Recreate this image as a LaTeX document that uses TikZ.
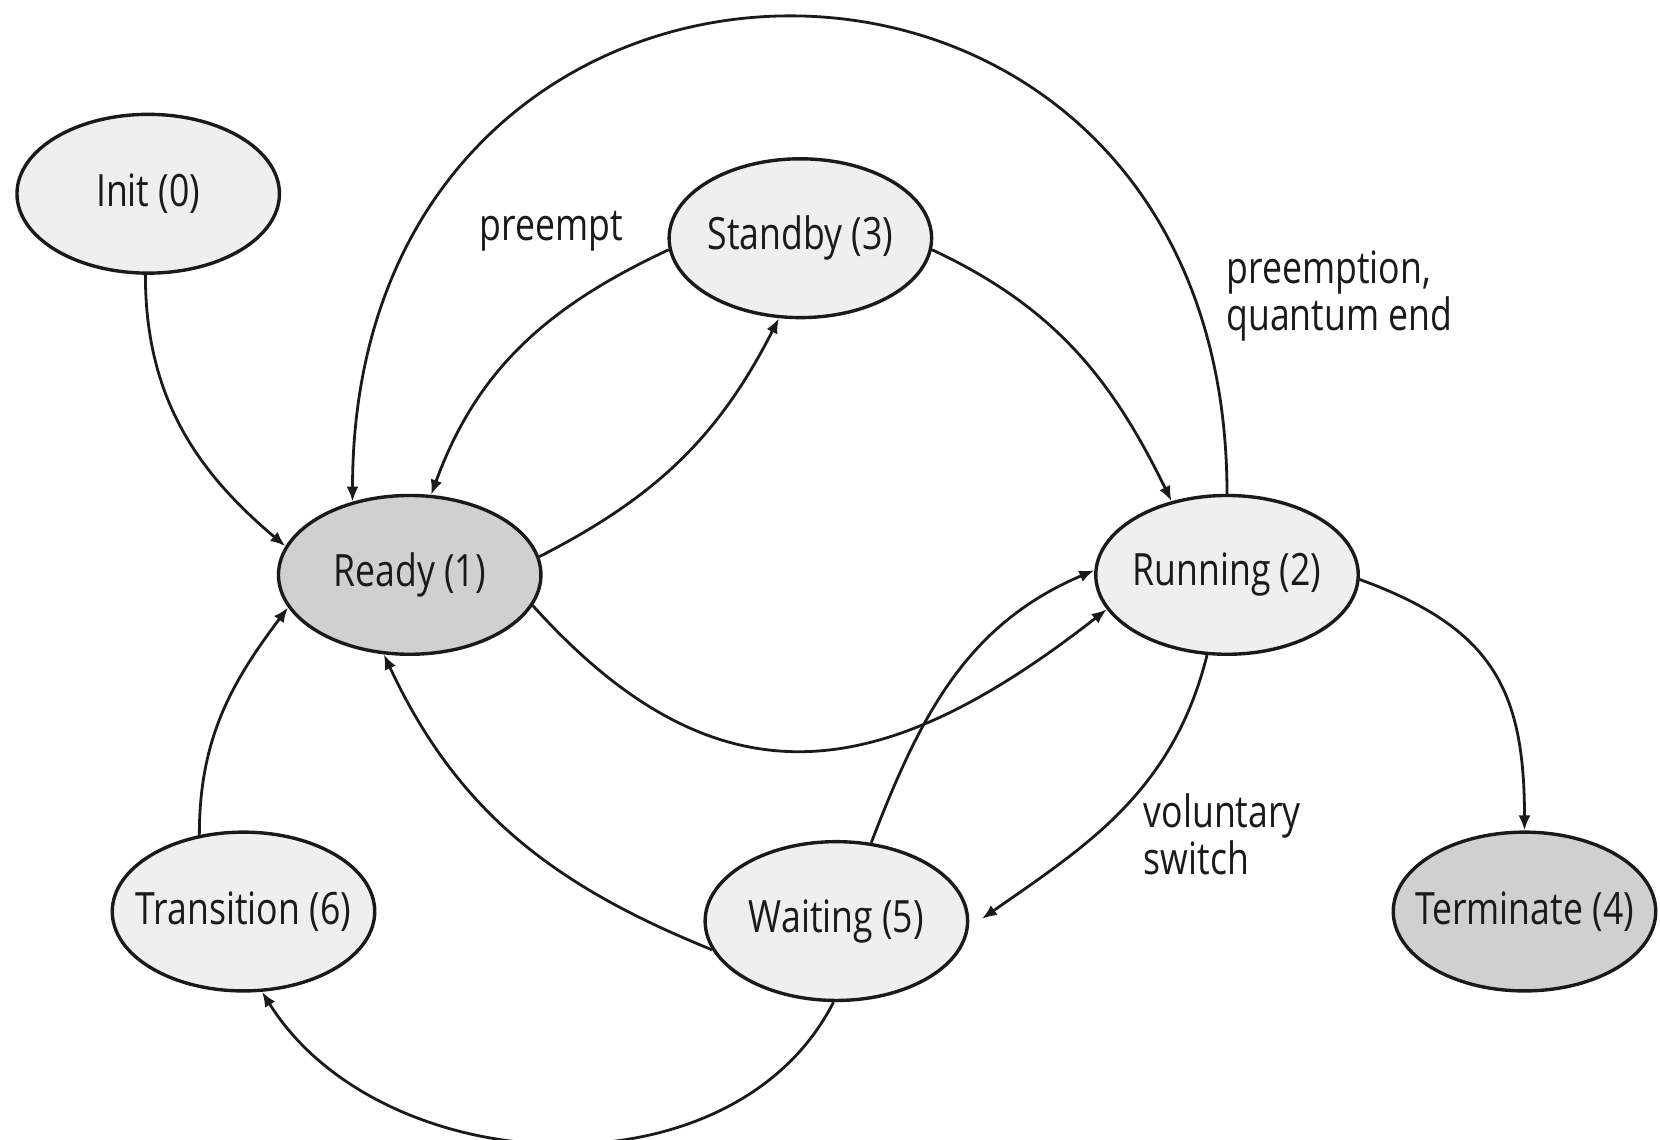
\documentclass[tikz,border=0pt]{standalone}
\usepackage{fontspec}
\setmainfont{Open Sans}[FakeStretch=0.8]
\usetikzlibrary{shapes.geometric,arrows.meta}
\definecolor{statefill}{HTML}{EFEFEF}
\definecolor{finalfill}{HTML}{D0D0D0}
\definecolor{ink}{HTML}{1A1A1A}
\begin{document}
\begin{tikzpicture}[x=0.53pt,y=-0.53pt,
  state/.style={ellipse,draw=ink,line width=1.7pt,fill=statefill,
    minimum width=131.4pt,minimum height=79.5pt,inner sep=0pt,
    font=\fontsize{22.3}{24}\selectfont,text=ink},
  darkstate/.style={state,fill=finalfill},
  edge/.style={draw=ink,line width=1.4pt,-{Latex[length=7.5pt,width=6pt]}},
  lbl/.style={font=\fontsize{22.3}{23.5}\selectfont,text=ink,align=left,inner sep=0pt}]
\useasboundingbox (0,0) rectangle (1568,1076);

% thread states
\node[state]     (init)       at (140,183)  {\makebox[0pt]{Init (0)}};
\node[darkstate] (ready)      at (387,543)  {\makebox[0pt]{Ready (1)}};
\node[state]     (standby)    at (756,225)  {\makebox[0pt]{Standby (3)}};
\node[state]     (running)    at (1159,543) {\makebox[0pt]{Running (2)}};
\node[state]     (transition) at (230,861)  {\makebox[0pt]{Transition (6)}};
\node[state]     (waiting)    at (790,870)  {\makebox[0pt]{Waiting (5)}};
\node[darkstate] (terminate)  at (1440,861) {\makebox[0pt]{Terminate (4)}};

% transitions
\draw[edge] (init.268) to[out=270,in=140] (ready.167);
\draw[edge] (running.north) to[out=90,in=90,looseness=1.87] (ready.128);
\draw[edge] (standby.185) to[out=205,in=70] (ready.75);
\draw[edge] (ready.8) to[out=27,in=243] (standby.255);
\draw[edge] (standby.-5) to[out=-25,in=116] (running.127);
\draw[edge] (ready.-14) to[out=-48,in=218,looseness=1.25] (running.196);
\draw[edge] (waiting.66) to[out=69,in=203] (running.178);
\draw[edge,shorten >=8pt] (running.256) to[out=256,in=35] (waiting.-3);
\draw[edge] (waiting.193) to[out=158,in=295] (ready.252);
\draw[edge] (waiting.268) to[out=243,in=302] (transition.283);
\draw[edge] (transition.120) to[out=90,in=233] (ready.195);
\draw[edge] (running.-2) to[out=-20,in=90,looseness=1.2] (terminate.north);

% edge labels
\node[lbl] (lpreempt) at (521,218) {preempt};
\node[lbl,anchor=west] (lquantum) at (1158,280) {preemption,\\quantum end};
\node[lbl,anchor=west] (lvoluntary) at (1080,788) {voluntary\\switch};
\end{tikzpicture}
\end{document}
